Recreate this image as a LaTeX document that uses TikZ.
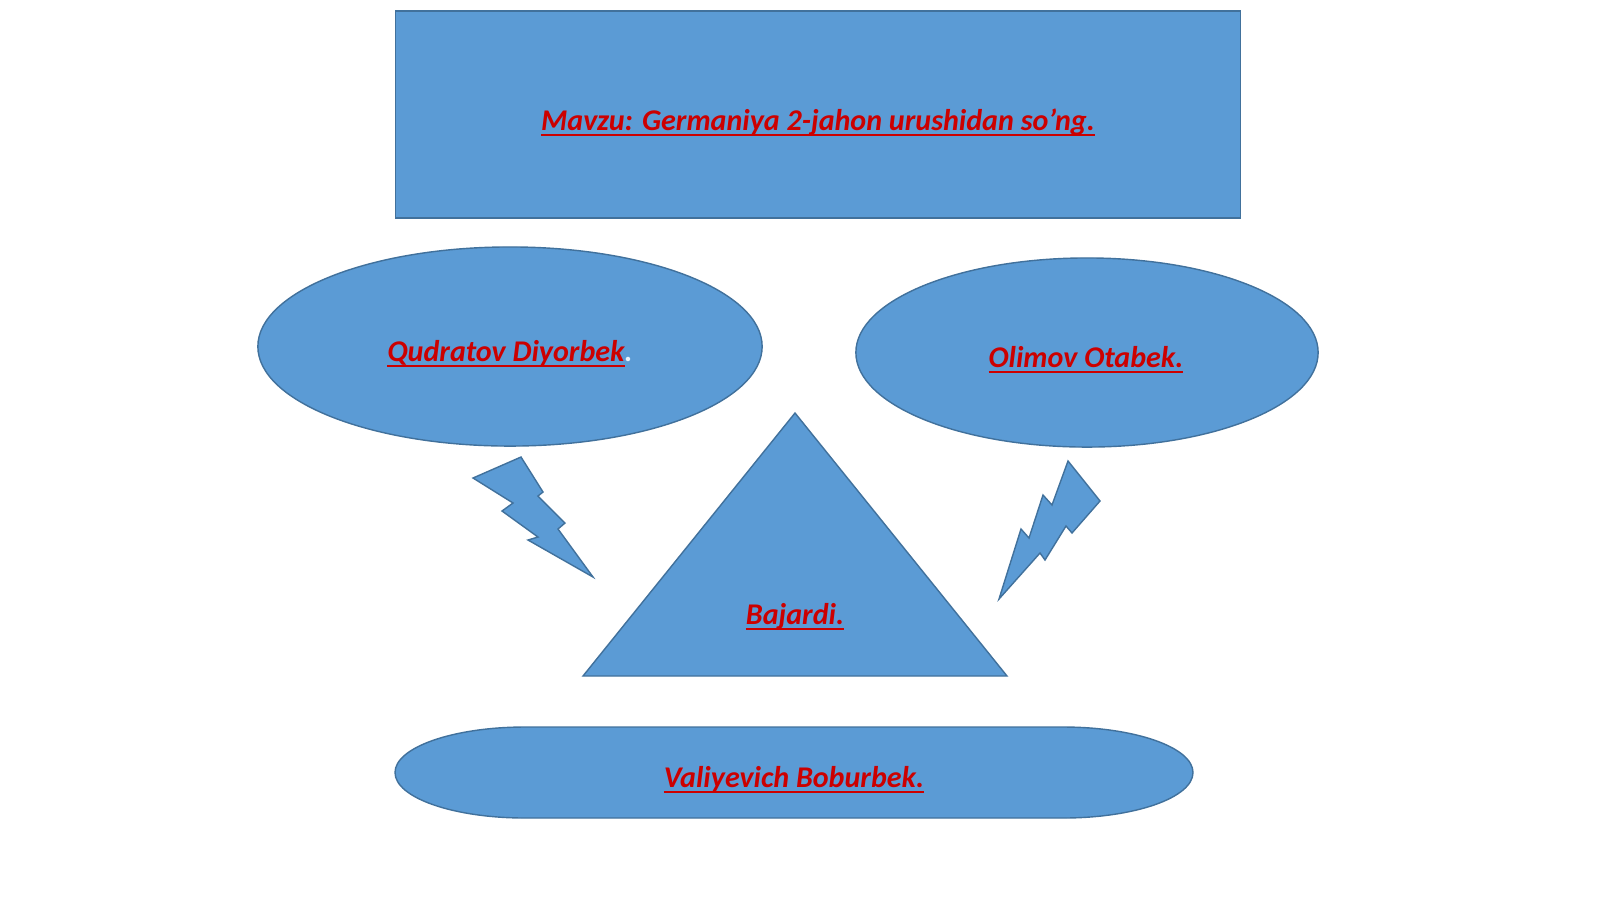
\documentclass[tikz,border=0pt]{standalone}
\usepackage{fontspec}
\setmainfont{Carlito}
\usetikzlibrary{shapes.geometric}
\definecolor{slideblue}{RGB}{91,155,213}
\definecolor{slideedge}{RGB}{65,113,156}
\definecolor{namered}{RGB}{204,0,0}
\newcommand{\uname}[1]{\setbox0\hbox{#1}\rlap{\rule[-1.6pt]{\wd0}{0.55pt}}\box0}
\tikzset{
  blob/.style={fill=slideblue, draw=slideedge, line width=0.4pt},
  namelabel/.style={text=namered, inner sep=0pt, font=\fontsize{8.55}{10}\selectfont\bfseries\itshape},
}

\begin{document}
\begin{tikzpicture}[x=0.01cm, y=-0.01cm]
\useasboundingbox (0,0) rectangle (1600,899);
\node[blob, rectangle, minimum width=8.44cm, minimum height=2.07cm] (topic) at (818,114.5) {};
\node[namelabel] (topictext) at (818,122) {\uname{Mavzu: Germaniya 2-jahon urushidan so'ng.}};
\node[blob, ellipse, minimum width=5.04cm, minimum height=1.99cm, inner sep=0pt] (left) at (510,346.5) {};
\node[namelabel] (lefttext) at (510,354) {\uname{Qudratov Diyorbek}\textcolor{white!85!slideblue}{.}};
\node[blob, ellipse, minimum width=4.62cm, minimum height=1.89cm, inner sep=0pt] (right) at (1087,352.5) {};
\node[namelabel] (righttext) at (1086,360) {\uname{Olimov Otabek.}};
% triangle and bolts
\draw[blob] (795,413) -- (1007,676) -- (583,676) -- cycle;
\node[namelabel] (done) at (795,617) {\uname{Bajardi.}};
\draw[blob] (473,478) -- (521,457) -- (543,492) -- (538,496) -- (565,523) -- (558,529)
  -- (593,577) -- (528,540) -- (538,537) -- (502,511) -- (513,503) -- cycle;
\draw[blob] (1100,501) -- (1072,533) -- (1066,526) -- (1045,560) -- (1040,553) -- (999,599)
  -- (1021,529) -- (1029,538) -- (1043,495) -- (1052,505) -- (1068,461) -- cycle;
% bottom capsule
\draw[blob] (525,727) -- (1063,727) arc[start angle=-90, end angle=90, x radius=130, y radius=45.5]
  -- (525,818) arc[start angle=90, end angle=270, x radius=130, y radius=45.5] -- cycle;
\node[namelabel] (bottomtext) at (794,780) {\uname{Valiyevich Boburbek.}};
\end{tikzpicture}
\end{document}
